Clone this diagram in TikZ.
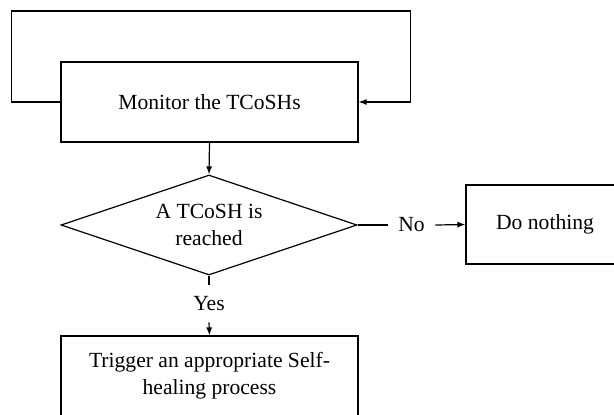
\documentclass[tikz,border=0pt]{standalone}
\usepackage{fontspec}
\setmainfont{Liberation Serif}
\usepackage{tikz}
\usetikzlibrary{positioning,shapes.geometric,arrows.meta}

\begin{document}
\begin{tikzpicture}[x=0.5pt,y=0.5pt,
            every node/.style={font=\fontsize{10.8}{13.5}\selectfont},
            box/.style={draw, line width=0.6pt, rectangle, inner sep=0pt, align=center},
            decision/.style={draw, line width=0.6pt, diamond, aspect=3, inner sep=0pt, align=center,
                minimum width=148pt, minimum height=50pt},
            lbl/.style={inner sep=0pt},
            line/.style={line width=0.6pt},
            arr/.style={line width=0.6pt, -{Latex[length=4pt,width=3pt]}}]
            % Fix the frame of the picture
            \clip (0,0) rectangle (614,414);
            % Main boxes
            \node[box, minimum width=148.5pt, minimum height=40pt] (monitor) at (209.5,312) {Monitor the TCoSHs};
            \node[decision] (reached) at (209,189) {A TCoSH is\\reached};
            \node[box, minimum width=79pt, minimum height=39.5pt] (nothing) at (545,189.5) {Do nothing};
            \node[box, minimum width=148.5pt, minimum height=40pt] (trigger) at (209.5,38) {Trigger an appropriate Self-\\healing process};
            % Branch labels
            \node[lbl, minimum width=23.5pt] (no) at (411.5,189) {No};
            \node[lbl, minimum height=18.5pt] (yes) at (209,110.5) {Yes};

            % Connectors
            \draw[arr] (monitor.south) -- (reached.north);
            \draw[line] (reached.east) -- (no.west);
            \draw[arr] (no.east) -- (nothing.west);
            \draw[line] (reached.south) -- (yes.north);
            \draw[arr] (yes.south) -- (trigger.north);
            % Feedback loop round the monitor box
            \draw[arr] (monitor.west) -- ++(-49,0) -- ++(0,91) -- ++(399,0) -- ++(0,-91) -- (monitor.east);
\end{tikzpicture}
\end{document}
